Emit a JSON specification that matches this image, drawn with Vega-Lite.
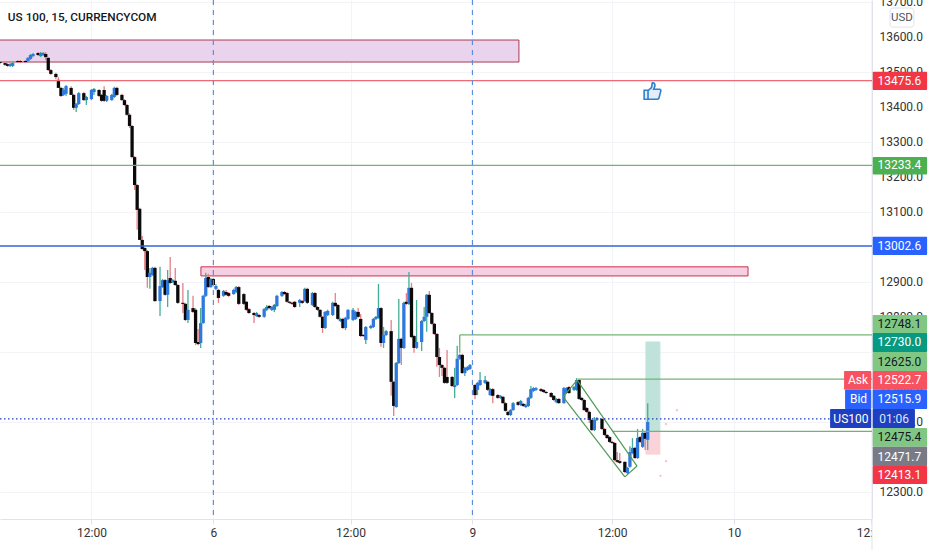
{
  "$schema": "https://vega.github.io/schema/vega-lite/v6.json",
  "width": 872,
  "height": 519,
  "padding": {"left": 0, "top": 0, "right": 60, "bottom": 31},
  "autosize": {"type": "none"},
  "background": "white",
  "view": {"stroke": null},
  "config": {"text": {"font": "Roboto"}, "axis": {"labelFont": "Roboto"}},
  "resolve": {"scale": {"color": "independent"}},
  "datasets": {
    "candles": [
      {"bar":0,"o":13529,"h":13532,"l":13523,"c":13526,"dir":"down"},
      {"bar":2,"o":13526,"h":13529,"l":13518,"c":13521,"dir":"down"},
      {"bar":3,"o":13523,"h":13526,"l":13515,"c":13518,"dir":"down"},
      {"bar":4,"o":13518,"h":13526,"l":13515,"c":13523,"dir":"up"},
      {"bar":5,"o":13518,"h":13529,"l":13515,"c":13526,"dir":"up"},
      {"bar":7,"o":13532,"h":13535,"l":13526,"c":13529,"dir":"down"},
      {"bar":8,"o":13532,"h":13535,"l":13526,"c":13529,"dir":"down"},
      {"bar":10,"o":13532,"h":13535,"l":13526,"c":13529,"dir":"down"},
      {"bar":11,"o":13532,"h":13543,"l":13529,"c":13541,"dir":"up"},
      {"bar":12,"o":13538,"h":13552,"l":13535,"c":13549,"dir":"up"},
      {"bar":13,"o":13546,"h":13555,"l":13543,"c":13552,"dir":"up"},
      {"bar":15,"o":13555,"h":13558,"l":13546,"c":13549,"dir":"down"},
      {"bar":16,"o":13546,"h":13558,"l":13543,"c":13555,"dir":"up"},
      {"bar":17,"o":13549,"h":13558,"l":13546,"c":13555,"dir":"up"},
      {"bar":18,"o":13552,"h":13558,"l":13535,"c":13543,"dir":"down"},
      {"bar":19,"o":13541,"h":13543,"l":13503,"c":13506,"dir":"down"},
      {"bar":20,"o":13506,"h":13509,"l":13492,"c":13495,"dir":"down"},
      {"bar":22,"o":13495,"h":13498,"l":13480,"c":13486,"dir":"down"},
      {"bar":23,"o":13478,"h":13486,"l":13455,"c":13455,"dir":"down"},
      {"bar":24,"o":13455,"h":13458,"l":13429,"c":13432,"dir":"down"},
      {"bar":25,"o":13435,"h":13455,"l":13432,"c":13449,"dir":"up"},
      {"bar":26,"o":13438,"h":13463,"l":13432,"c":13460,"dir":"up"},
      {"bar":28,"o":13455,"h":13460,"l":13435,"c":13435,"dir":"down"},
      {"bar":29,"o":13435,"h":13438,"l":13392,"c":13398,"dir":"down"},
      {"bar":30,"o":13398,"h":13412,"l":13386,"c":13409,"dir":"up"},
      {"bar":31,"o":13409,"h":13443,"l":13406,"c":13440,"dir":"up"},
      {"bar":33,"o":13440,"h":13443,"l":13418,"c":13420,"dir":"down"},
      {"bar":34,"o":13420,"h":13432,"l":13406,"c":13429,"dir":"up"},
      {"bar":36,"o":13423,"h":13452,"l":13420,"c":13449,"dir":"up"},
      {"bar":37,"o":13443,"h":13455,"l":13435,"c":13452,"dir":"up"},
      {"bar":39,"o":13449,"h":13452,"l":13429,"c":13432,"dir":"down"},
      {"bar":40,"o":13435,"h":13438,"l":13415,"c":13418,"dir":"down"},
      {"bar":41,"o":13449,"h":13460,"l":13415,"c":13418,"dir":"down"},
      {"bar":42,"o":13418,"h":13435,"l":13415,"c":13432,"dir":"up"},
      {"bar":44,"o":13420,"h":13438,"l":13418,"c":13435,"dir":"up"},
      {"bar":45,"o":13429,"h":13458,"l":13426,"c":13455,"dir":"up"},
      {"bar":46,"o":13455,"h":13458,"l":13432,"c":13435,"dir":"down"},
      {"bar":48,"o":13435,"h":13438,"l":13418,"c":13420,"dir":"down"},
      {"bar":49,"o":13420,"h":13423,"l":13403,"c":13406,"dir":"down"},
      {"bar":50,"o":13406,"h":13409,"l":13375,"c":13378,"dir":"down"},
      {"bar":51,"o":13378,"h":13383,"l":13340,"c":13346,"dir":"down"},
      {"bar":52,"o":13346,"h":13349,"l":13254,"c":13257,"dir":"down"},
      {"bar":53,"o":13257,"h":13260,"l":13163,"c":13177,"dir":"down"},
      {"bar":54,"o":13177,"h":13180,"l":13049,"c":13106,"dir":"down"},
      {"bar":55,"o":13109,"h":13112,"l":13020,"c":13020,"dir":"down"},
      {"bar":56,"o":13020,"h":13031,"l":12991,"c":12994,"dir":"down"},
      {"bar":57,"o":12997,"h":13000,"l":12934,"c":12988,"dir":"down"},
      {"bar":58,"o":12988,"h":12991,"l":12883,"c":12914,"dir":"down"},
      {"bar":59,"o":12914,"h":12940,"l":12880,"c":12926,"dir":"up"},
      {"bar":60,"o":12920,"h":12943,"l":12917,"c":12940,"dir":"up"},
      {"bar":61,"o":12940,"h":12943,"l":12843,"c":12845,"dir":"down"},
      {"bar":63,"o":12845,"h":12943,"l":12802,"c":12888,"dir":"up"},
      {"bar":64,"o":12885,"h":12908,"l":12883,"c":12905,"dir":"up"},
      {"bar":65,"o":12905,"h":12908,"l":12860,"c":12863,"dir":"down"},
      {"bar":66,"o":12863,"h":12934,"l":12828,"c":12905,"dir":"up"},
      {"bar":67,"o":12911,"h":12971,"l":12894,"c":12897,"dir":"down"},
      {"bar":68,"o":12900,"h":12908,"l":12897,"c":12905,"dir":"up"},
      {"bar":69,"o":12903,"h":12940,"l":12888,"c":12891,"dir":"down"},
      {"bar":70,"o":12891,"h":12894,"l":12837,"c":12840,"dir":"down"},
      {"bar":72,"o":12840,"h":12897,"l":12811,"c":12837,"dir":"down"},
      {"bar":73,"o":12837,"h":12840,"l":12788,"c":12791,"dir":"down"},
      {"bar":74,"o":12791,"h":12877,"l":12782,"c":12820,"dir":"up"},
      {"bar":76,"o":12825,"h":12860,"l":12811,"c":12814,"dir":"down"},
      {"bar":77,"o":12820,"h":12825,"l":12719,"c":12725,"dir":"down"},
      {"bar":78,"o":12728,"h":12765,"l":12719,"c":12722,"dir":"down"},
      {"bar":79,"o":12725,"h":12825,"l":12711,"c":12782,"dir":"up"},
      {"bar":80,"o":12782,"h":12863,"l":12780,"c":12860,"dir":"up"},
      {"bar":81,"o":12860,"h":12926,"l":12857,"c":12911,"dir":"up"},
      {"bar":82,"o":12914,"h":12923,"l":12883,"c":12885,"dir":"down"},
      {"bar":83,"o":12885,"h":12911,"l":12883,"c":12908,"dir":"up"},
      {"bar":84,"o":12908,"h":12911,"l":12888,"c":12891,"dir":"down"},
      {"bar":85,"o":12880,"h":12894,"l":12877,"c":12888,"dir":"up"},
      {"bar":86,"o":12877,"h":12880,"l":12840,"c":12854,"dir":"down"},
      {"bar":88,"o":12860,"h":12877,"l":12857,"c":12874,"dir":"up"},
      {"bar":89,"o":12871,"h":12877,"l":12860,"c":12863,"dir":"down"},
      {"bar":90,"o":12868,"h":12871,"l":12857,"c":12860,"dir":"down"},
      {"bar":92,"o":12865,"h":12880,"l":12863,"c":12877,"dir":"up"},
      {"bar":93,"o":12871,"h":12888,"l":12868,"c":12885,"dir":"up"},
      {"bar":94,"o":12885,"h":12888,"l":12834,"c":12837,"dir":"down"},
      {"bar":96,"o":12865,"h":12868,"l":12834,"c":12837,"dir":"down"},
      {"bar":97,"o":12843,"h":12845,"l":12817,"c":12820,"dir":"down"},
      {"bar":98,"o":12822,"h":12825,"l":12808,"c":12811,"dir":"down"},
      {"bar":100,"o":12811,"h":12814,"l":12782,"c":12805,"dir":"down"},
      {"bar":101,"o":12802,"h":12814,"l":12800,"c":12811,"dir":"up"},
      {"bar":102,"o":12805,"h":12808,"l":12797,"c":12800,"dir":"down"},
      {"bar":104,"o":12800,"h":12825,"l":12797,"c":12822,"dir":"up"},
      {"bar":105,"o":12820,"h":12834,"l":12817,"c":12828,"dir":"up"},
      {"bar":106,"o":12831,"h":12834,"l":12822,"c":12825,"dir":"down"},
      {"bar":107,"o":12820,"h":12831,"l":12817,"c":12828,"dir":"up"},
      {"bar":108,"o":12820,"h":12837,"l":12814,"c":12834,"dir":"up"},
      {"bar":109,"o":12831,"h":12863,"l":12828,"c":12860,"dir":"up"},
      {"bar":111,"o":12860,"h":12874,"l":12857,"c":12871,"dir":"up"},
      {"bar":112,"o":12871,"h":12874,"l":12863,"c":12865,"dir":"down"},
      {"bar":113,"o":12868,"h":12871,"l":12840,"c":12843,"dir":"down"},
      {"bar":114,"o":12843,"h":12845,"l":12837,"c":12840,"dir":"down"},
      {"bar":115,"o":12840,"h":12843,"l":12834,"c":12837,"dir":"down"},
      {"bar":116,"o":12843,"h":12845,"l":12825,"c":12828,"dir":"down"},
      {"bar":118,"o":12840,"h":12851,"l":12828,"c":12848,"dir":"up"},
      {"bar":119,"o":12845,"h":12848,"l":12837,"c":12840,"dir":"down"},
      {"bar":120,"o":12845,"h":12883,"l":12843,"c":12880,"dir":"up"},
      {"bar":121,"o":12880,"h":12883,"l":12837,"c":12840,"dir":"down"},
      {"bar":123,"o":12834,"h":12871,"l":12831,"c":12868,"dir":"up"},
      {"bar":124,"o":12868,"h":12871,"l":12825,"c":12828,"dir":"down"},
      {"bar":125,"o":12828,"h":12831,"l":12817,"c":12820,"dir":"down"},
      {"bar":126,"o":12820,"h":12822,"l":12797,"c":12800,"dir":"down"},
      {"bar":127,"o":12800,"h":12802,"l":12754,"c":12768,"dir":"down"},
      {"bar":128,"o":12768,"h":12817,"l":12765,"c":12814,"dir":"up"},
      {"bar":129,"o":12805,"h":12820,"l":12802,"c":12817,"dir":"up"},
      {"bar":131,"o":12805,"h":12843,"l":12802,"c":12840,"dir":"up"},
      {"bar":132,"o":12840,"h":12868,"l":12828,"c":12831,"dir":"down"},
      {"bar":133,"o":12834,"h":12837,"l":12791,"c":12794,"dir":"down"},
      {"bar":134,"o":12788,"h":12797,"l":12785,"c":12794,"dir":"up"},
      {"bar":135,"o":12794,"h":12797,"l":12765,"c":12768,"dir":"down"},
      {"bar":136,"o":12768,"h":12800,"l":12762,"c":12797,"dir":"up"},
      {"bar":137,"o":12794,"h":12822,"l":12791,"c":12820,"dir":"up"},
      {"bar":139,"o":12791,"h":12825,"l":12788,"c":12820,"dir":"up"},
      {"bar":140,"o":12794,"h":12817,"l":12791,"c":12814,"dir":"up"},
      {"bar":141,"o":12814,"h":12825,"l":12797,"c":12800,"dir":"down"},
      {"bar":142,"o":12794,"h":12808,"l":12742,"c":12745,"dir":"down"},
      {"bar":143,"o":12748,"h":12751,"l":12742,"c":12745,"dir":"down"},
      {"bar":144,"o":12734,"h":12774,"l":12722,"c":12771,"dir":"up"},
      {"bar":146,"o":12768,"h":12777,"l":12765,"c":12774,"dir":"up"},
      {"bar":147,"o":12771,"h":12797,"l":12768,"c":12794,"dir":"up"},
      {"bar":148,"o":12794,"h":12802,"l":12791,"c":12800,"dir":"up"},
      {"bar":149,"o":12797,"h":12894,"l":12794,"c":12825,"dir":"up"},
      {"bar":150,"o":12825,"h":12828,"l":12714,"c":12725,"dir":"down"},
      {"bar":151,"o":12725,"h":12771,"l":12711,"c":12748,"dir":"up"},
      {"bar":152,"o":12748,"h":12762,"l":12745,"c":12759,"dir":"up"},
      {"bar":154,"o":12759,"h":12791,"l":12574,"c":12614,"dir":"down"},
      {"bar":155,"o":12614,"h":12617,"l":12516,"c":12545,"dir":"down"},
      {"bar":156,"o":12542,"h":12671,"l":12540,"c":12668,"dir":"up"},
      {"bar":157,"o":12668,"h":12851,"l":12665,"c":12737,"dir":"up"},
      {"bar":158,"o":12737,"h":12740,"l":12662,"c":12711,"dir":"down"},
      {"bar":159,"o":12711,"h":12843,"l":12708,"c":12840,"dir":"up"},
      {"bar":160,"o":12843,"h":12868,"l":12834,"c":12837,"dir":"down"},
      {"bar":161,"o":12837,"h":12928,"l":12834,"c":12883,"dir":"up"},
      {"bar":162,"o":12883,"h":12897,"l":12739,"c":12742,"dir":"down"},
      {"bar":163,"o":12745,"h":12748,"l":12697,"c":12711,"dir":"down"},
      {"bar":164,"o":12711,"h":12848,"l":12708,"c":12728,"dir":"up"},
      {"bar":166,"o":12728,"h":12791,"l":12702,"c":12788,"dir":"up"},
      {"bar":167,"o":12788,"h":12828,"l":12785,"c":12800,"dir":"up"},
      {"bar":168,"o":12800,"h":12865,"l":12757,"c":12863,"dir":"up"},
      {"bar":169,"o":12863,"h":12874,"l":12808,"c":12811,"dir":"down"},
      {"bar":170,"o":12811,"h":12814,"l":12777,"c":12780,"dir":"down"},
      {"bar":171,"o":12780,"h":12782,"l":12748,"c":12751,"dir":"down"},
      {"bar":172,"o":12751,"h":12754,"l":12657,"c":12685,"dir":"down"},
      {"bar":173,"o":12685,"h":12711,"l":12628,"c":12662,"dir":"down"},
      {"bar":174,"o":12662,"h":12665,"l":12631,"c":12654,"dir":"down"},
      {"bar":175,"o":12654,"h":12657,"l":12608,"c":12611,"dir":"down"},
      {"bar":176,"o":12628,"h":12705,"l":12608,"c":12611,"dir":"down"},
      {"bar":178,"o":12628,"h":12631,"l":12599,"c":12602,"dir":"down"},
      {"bar":179,"o":12599,"h":12654,"l":12568,"c":12605,"dir":"up"},
      {"bar":180,"o":12605,"h":12717,"l":12602,"c":12680,"dir":"up"},
      {"bar":181,"o":12680,"h":12694,"l":12677,"c":12691,"dir":"up"},
      {"bar":182,"o":12691,"h":12694,"l":12637,"c":12639,"dir":"down"},
      {"bar":183,"o":12639,"h":12657,"l":12631,"c":12654,"dir":"up"},
      {"bar":184,"o":12648,"h":12659,"l":12645,"c":12656,"dir":"up"},
      {"bar":185,"o":12651,"h":12665,"l":12648,"c":12662,"dir":"up"},
      {"bar":187,"o":12605,"h":12608,"l":12565,"c":12576,"dir":"down"},
      {"bar":188,"o":12591,"h":12614,"l":12576,"c":12611,"dir":"up"},
      {"bar":189,"o":12605,"h":12642,"l":12602,"c":12619,"dir":"up"},
      {"bar":191,"o":12611,"h":12631,"l":12608,"c":12619,"dir":"up"},
      {"bar":192,"o":12614,"h":12617,"l":12588,"c":12591,"dir":"down"},
      {"bar":193,"o":12576,"h":12596,"l":12574,"c":12593,"dir":"up"},
      {"bar":194,"o":12593,"h":12596,"l":12553,"c":12574,"dir":"down"},
      {"bar":196,"o":12576,"h":12579,"l":12565,"c":12568,"dir":"down"},
      {"bar":197,"o":12568,"h":12576,"l":12565,"c":12574,"dir":"up"},
      {"bar":198,"o":12571,"h":12574,"l":12551,"c":12553,"dir":"down"},
      {"bar":199,"o":12553,"h":12556,"l":12528,"c":12531,"dir":"down"},
      {"bar":200,"o":12528,"h":12531,"l":12516,"c":12519,"dir":"down"},
      {"bar":201,"o":12519,"h":12536,"l":12516,"c":12533,"dir":"up"},
      {"bar":202,"o":12533,"h":12556,"l":12531,"c":12553,"dir":"up"},
      {"bar":204,"o":12556,"h":12559,"l":12545,"c":12548,"dir":"down"},
      {"bar":205,"o":12548,"h":12562,"l":12545,"c":12559,"dir":"up"},
      {"bar":206,"o":12551,"h":12553,"l":12542,"c":12545,"dir":"down"},
      {"bar":207,"o":12542,"h":12551,"l":12539,"c":12548,"dir":"up"},
      {"bar":208,"o":12545,"h":12571,"l":12542,"c":12568,"dir":"up"},
      {"bar":209,"o":12568,"h":12602,"l":12565,"c":12593,"dir":"up"},
      {"bar":210,"o":12588,"h":12599,"l":12585,"c":12596,"dir":"up"},
      {"bar":211,"o":12591,"h":12599,"l":12588,"c":12596,"dir":"up"},
      {"bar":213,"o":12593,"h":12596,"l":12585,"c":12588,"dir":"down"},
      {"bar":214,"o":12591,"h":12593,"l":12582,"c":12585,"dir":"down"},
      {"bar":215,"o":12585,"h":12588,"l":12579,"c":12582,"dir":"down"},
      {"bar":217,"o":12582,"h":12585,"l":12568,"c":12571,"dir":"down"},
      {"bar":218,"o":12574,"h":12576,"l":12559,"c":12562,"dir":"down"},
      {"bar":219,"o":12556,"h":12568,"l":12553,"c":12565,"dir":"up"},
      {"bar":220,"o":12565,"h":12568,"l":12551,"c":12553,"dir":"down"},
      {"bar":222,"o":12553,"h":12599,"l":12551,"c":12596,"dir":"up"},
      {"bar":223,"o":12582,"h":12599,"l":12579,"c":12596,"dir":"up"},
      {"bar":224,"o":12599,"h":12602,"l":12579,"c":12582,"dir":"down"},
      {"bar":226,"o":12591,"h":12602,"l":12588,"c":12599,"dir":"up"},
      {"bar":227,"o":12591,"h":12625,"l":12588,"c":12619,"dir":"up"},
      {"bar":228,"o":12619,"h":12622,"l":12562,"c":12565,"dir":"down"},
      {"bar":229,"o":12568,"h":12571,"l":12559,"c":12562,"dir":"down"},
      {"bar":230,"o":12562,"h":12565,"l":12531,"c":12533,"dir":"down"},
      {"bar":231,"o":12539,"h":12542,"l":12525,"c":12528,"dir":"down"},
      {"bar":232,"o":12528,"h":12531,"l":12496,"c":12505,"dir":"down"},
      {"bar":233,"o":12505,"h":12508,"l":12473,"c":12476,"dir":"down"},
      {"bar":234,"o":12476,"h":12513,"l":12473,"c":12505,"dir":"up"},
      {"bar":235,"o":12505,"h":12513,"l":12502,"c":12510,"dir":"up"},
      {"bar":237,"o":12508,"h":12510,"l":12476,"c":12479,"dir":"down"},
      {"bar":238,"o":12479,"h":12482,"l":12459,"c":12462,"dir":"down"},
      {"bar":239,"o":12462,"h":12465,"l":12451,"c":12453,"dir":"down"},
      {"bar":240,"o":12456,"h":12459,"l":12439,"c":12442,"dir":"down"},
      {"bar":241,"o":12442,"h":12445,"l":12436,"c":12439,"dir":"down"},
      {"bar":242,"o":12439,"h":12442,"l":12387,"c":12390,"dir":"down"},
      {"bar":243,"o":12390,"h":12413,"l":12382,"c":12385,"dir":"down"},
      {"bar":244,"o":12387,"h":12410,"l":12379,"c":12382,"dir":"down"},
      {"bar":246,"o":12385,"h":12387,"l":12353,"c":12356,"dir":"down"},
      {"bar":247,"o":12353,"h":12371,"l":12350,"c":12368,"dir":"up"},
      {"bar":248,"o":12371,"h":12430,"l":12368,"c":12413,"dir":"up"},
      {"bar":249,"o":12410,"h":12453,"l":12407,"c":12425,"dir":"up"},
      {"bar":250,"o":12425,"h":12428,"l":12393,"c":12396,"dir":"down"},
      {"bar":251,"o":12396,"h":12479,"l":12393,"c":12453,"dir":"up"},
      {"bar":252,"o":12456,"h":12459,"l":12439,"c":12442,"dir":"down"},
      {"bar":253,"o":12428,"h":12479,"l":12425,"c":12468,"dir":"up"},
      {"bar":254,"o":12468,"h":12470,"l":12419,"c":12451,"dir":"down"},
      {"bar":255,"o":12448,"h":12553,"l":12419,"c":12499,"dir":"up"}
    ],
    "zones": [
      {"name":"supply","from":-2,"to":204.3,"top":13592,"bottom":13529},
      {"name":"resistance","from":79.1,"to":294.5,"top":12943,"bottom":12917},
      {"name":"profit","from":254.3,"to":259.8,"top":12728,"bottom":12470},
      {"name":"loss","from":254.3,"to":259.8,"top":12470,"bottom":12407}
    ],
    "levels": [
      {"name":"red","from":0,"to":343.3,"price":13475.6},
      {"name":"green","from":0,"to":343.3,"price":13233.4},
      {"name":"blue","from":0,"to":343.3,"price":13002.6},
      {"name":"green","from":181,"to":343.3,"price":12748.1},
      {"name":"green","from":227.5,"to":343.3,"price":12622},
      {"name":"green","from":241,"to":343.3,"price":12472}
    ],
    "paths": [
      {"path":"channel-upper","bar":227.2,"price":12619},
      {"path":"channel-upper","bar":250.8,"price":12373},
      {"path":"channel-lower","bar":221.7,"price":12571},
      {"path":"channel-lower","bar":246,"price":12342},
      {"path":"channel-top","bar":221.7,"price":12571},
      {"path":"channel-top","bar":227.2,"price":12619},
      {"path":"channel-bottom","bar":246,"price":12342},
      {"path":"channel-bottom","bar":250.8,"price":12373}
    ],
    "stem": [{"bar":181,"from":12748,"to":12697}],
    "priceLabels": [
      {"price":12300,"label":"12300.0"},{"price":12400,"label":"12400.0"},{"price":12500,"label":"12500.0"},
      {"price":12600,"label":"12600.0"},{"price":12700,"label":"12700.0"},{"price":12800,"label":"12800.0"},
      {"price":12900,"label":"12900.0"},{"price":13000,"label":"13000.0"},{"price":13100,"label":"13100.0"},
      {"price":13200,"label":"13200.0"},{"price":13300,"label":"13300.0"},{"price":13400,"label":"13400.0"},
      {"price":13500,"label":"13500.0"},{"price":13600,"label":"13600.0"},{"price":13700,"label":"13700.0"}
    ],
    "rightTags": [
      {"name":"sell","label":"13475.6","top":13501,"bottom":13449,"mid":13475.6,"from":343.6,"to":365,"center":354.1},
      {"name":"tp","label":"13233.4","top":13257,"bottom":13207,"mid":13233.4,"from":343.6,"to":365,"center":354.1},
      {"name":"bid","label":"13002.6","top":13029,"bottom":12977,"mid":13002.6,"from":343.6,"to":365,"center":354.1},
      {"name":"level","label":"12748.1","top":12805,"bottom":12754,"mid":12780,"from":343.6,"to":365,"center":354.1},
      {"name":"teal","label":"12730.0","top":12754,"bottom":12699,"mid":12727,"from":343.6,"to":365,"center":354.1},
      {"name":"level","label":"12625.0","top":12699,"bottom":12645,"mid":12672,"from":343.6,"to":365,"center":354.1},
      {"name":"ask","label":"12522.7","top":12645,"bottom":12591,"mid":12618,"from":343.6,"to":365,"center":354.1},
      {"name":"bid","label":"12515.9","top":12591,"bottom":12536,"mid":12564,"from":343.6,"to":365,"center":354.1},
      {"name":"last","label":"01:06","top":12536,"bottom":12482,"mid":12509,"from":343.6,"to":360.2,"center":352},
      {"name":"level","label":"12475.4","top":12482,"bottom":12428,"mid":12455,"from":343.6,"to":365,"center":354.1},
      {"name":"gray","label":"12471.7","top":12428,"bottom":12373,"mid":12400,"from":343.6,"to":365,"center":354.1},
      {"name":"sell","label":"12413.1","top":12373,"bottom":12322,"mid":12347,"from":343.6,"to":365,"center":354.1}
    ],
    "leftTags": [
      {"name":"ask","label":"Ask","from":332.3,"to":343,"center":337.8,"top":12645,"bottom":12591,"mid":12618},
      {"name":"bid","label":"Bid","from":332.7,"to":343,"center":338,"top":12591,"bottom":12536,"mid":12564},
      {"name":"last","label":"US100","from":326.8,"to":343,"center":335,"top":12536,"bottom":12482,"mid":12509}
    ],
    "dots": [
      {"bar":266.5,"price":12533},
      {"bar":262.2,"price":12493},
      {"bar":262.2,"price":12387},
      {"bar":260,"price":12345}
    ]
  },
  "layer": [
    {
      "data": {"name": "zones"},
      "mark": {"type": "rect", "strokeWidth": 1},
      "encoding": {
        "x": {"field": "from", "type": "quantitative", "title": null, "scale": {"domain": [0, 343.3]},
          "axis": {"values": [36, 84, 138, 186, 241, 289, 343], "labelExpr": "{'36':'12:00','84':'6','138':'12:00','186':'9','241':'12:00','289':'10','343':'12:00'}[datum.value]", "title": null, "grid": true, "gridColor": "#f3f4f7", "domainColor": "#e0e3eb", "tickSize": 5, "tickColor": "#e0e3eb", "labelColor": "#333333", "labelFontSize": 12, "labelPadding": 3, "labelOverlap": false, "labelBound": false, "labelFlush": false}},
        "x2": {"field": "to"},
        "y": {"field": "top", "type": "quantitative", "title": null, "scale": {"domain": [12221.5, 13706.5]},
          "axis": {"orient": "right", "values": [12300,12400,12500,12600,12700,12800,12900,13000,13100,13200,13300,13400,13500,13600,13700], "labels": false, "title": null, "grid": true, "gridColor": "#f3f4f7", "domainColor": "#e0e3eb", "tickSize": 0}},
        "y2": {"field": "bottom"},
        "fill": {"field": "name", "scale": {"domain": ["supply", "resistance", "profit", "loss"], "range": ["#ead3ec", "#f7cfe3", "#bfe3da", "#f9d3d9"]}, "legend": null},
        "stroke": {"field": "name", "scale": {"domain": ["supply", "resistance", "profit", "loss"], "range": ["#a83a50", "#c9304c", "#bfe3da", "#f9d3d9"]}, "legend": null}
      }
    },
    {
      "data": {"name": "candles"},
      "mark": {"type": "rule", "strokeWidth": 1.3},
      "encoding": {
        "x": {"field": "bar", "type": "quantitative", "scale": {"domain": [0, 343.3]}},
        "y": {"field": "l", "type": "quantitative", "scale": {"domain": [12221.5, 13706.5]}},
        "y2": {"field": "h"},
        "color": {"field": "dir", "scale": {"domain": ["down", "up"], "range": ["#e67f87", "#45ad95"]}, "legend": null}
      }
    },
    {
      "data": {"name": "candles"},
      "mark": {"type": "rule", "strokeWidth": 3.3},
      "encoding": {
        "x": {"field": "bar", "type": "quantitative", "scale": {"domain": [0, 343.3]}},
        "y": {"field": "o", "type": "quantitative", "scale": {"domain": [12221.5, 13706.5]}},
        "y2": {"field": "c"},
        "color": {"field": "dir", "scale": {"domain": ["down", "up"], "range": ["#0a0a0a", "#2f78dc"]}, "legend": null}
      }
    },
    {
      "data": {"name": "levels"},
      "mark": {"type": "rule", "strokeWidth": 1.3},
      "encoding": {
        "x": {"field": "from", "type": "quantitative", "scale": {"domain": [0, 343.3]}},
        "x2": {"field": "to"},
        "y": {"field": "price", "type": "quantitative", "scale": {"domain": [12221.5, 13706.5]}},
        "color": {"field": "name", "scale": {"domain": ["red", "green", "blue"], "range": ["#ef6a75", "#74b374", "#2f66d8"]}, "legend": null}
      }
    },
    {
      "data": {"name": "stem"},
      "mark": {"type": "rule", "strokeWidth": 1.3, "color": "#74b374"},
      "encoding": {
        "x": {"field": "bar", "type": "quantitative", "scale": {"domain": [0, 343.3]}},
        "y": {"field": "from", "type": "quantitative", "scale": {"domain": [12221.5, 13706.5]}},
        "y2": {"field": "to"}
      }
    },
    {
      "data": {"name": "paths"},
      "mark": {"type": "line", "strokeWidth": 1.2, "color": "#4f9a55"},
      "encoding": {
        "x": {"field": "bar", "type": "quantitative", "scale": {"domain": [0, 343.3]}},
        "y": {"field": "price", "type": "quantitative", "scale": {"domain": [12221.5, 13706.5]}},
        "detail": {"field": "path"}
      }
    },
    {
      "data": {"values": [{"bar": 84}, {"bar": 186}]},
      "mark": {"type": "rule", "strokeWidth": 1.2, "strokeDash": [5, 5], "color": "#5b8ddb"},
      "encoding": {
        "x": {"field": "bar", "type": "quantitative", "scale": {"domain": [0, 343.3]}}
      }
    },
    {
      "data": {"values": [{"from": 0, "to": 326.8, "price": 12508}]},
      "mark": {"type": "rule", "strokeWidth": 1.2, "strokeDash": [1.5, 2.5], "color": "#1e3fbf"},
      "encoding": {
        "x": {"field": "from", "type": "quantitative", "scale": {"domain": [0, 343.3]}},
        "x2": {"field": "to"},
        "y": {"field": "price", "type": "quantitative", "scale": {"domain": [12221.5, 13706.5]}}
      }
    },
    {
      "data": {"name": "dots"},
      "mark": {"type": "point", "filled": true, "size": 5, "color": "#f0a3b2"},
      "encoding": {
        "x": {"field": "bar", "type": "quantitative", "scale": {"domain": [0, 343.3]}},
        "y": {"field": "price", "type": "quantitative", "scale": {"domain": [12221.5, 13706.5]}}
      }
    },
    {
      "data": {"values": [{"bar": 257, "price": 13446}]},
      "mark": {"type": "point", "filled": false, "size": 300, "opacity": 1, "stroke": "#2f7fd0", "fill": "#e3eefa", "fillOpacity": 1, "strokeWidth": 1.6,
        "shape": "M-1,-0.1 L-0.55,-0.1 L-0.55,0.95 L-1,0.95 Z M-0.55,-0.05 L-0.15,-0.4 L-0.05,-0.95 Q0.25,-1 0.25,-0.6 L0.1,-0.2 L0.8,-0.2 Q1,-0.15 0.9,0.1 L0.7,0.85 Q0.65,0.95 0.5,0.95 L-0.55,0.95 Z"},
      "encoding": {
        "x": {"field": "bar", "type": "quantitative", "scale": {"domain": [0, 343.3]}},
        "y": {"field": "price", "type": "quantitative", "scale": {"domain": [12221.5, 13706.5]}}
      }
    },
    {
      "data": {"values": [{"bar": 3.1, "price": 13658, "label": "US 100, 15, CURRENCYCOM"}]},
      "mark": {"type": "text", "align": "left", "baseline": "middle", "fontSize": 11.8, "fontWeight": 500, "color": "#131722"},
      "encoding": {
        "x": {"field": "bar", "type": "quantitative", "scale": {"domain": [0, 343.3]}},
        "y": {"field": "price", "type": "quantitative", "scale": {"domain": [12221.5, 13706.5]}},
        "text": {"field": "label"}
      }
    },
    {
      "data": {"values": [{"from": 343.3, "to": 368, "top": 12221.5, "bottom": 12100}]},
      "mark": {"type": "rect", "fill": "white"},
      "encoding": {
        "x": {"field": "from", "type": "quantitative", "scale": {"domain": [0, 343.3]}},
        "x2": {"field": "to"},
        "y": {"field": "top", "type": "quantitative", "scale": {"domain": [12221.5, 13706.5]}},
        "y2": {"field": "bottom"}
      }
    },
    {
      "data": {"values": [{"bar": 343.3, "top": 12221.5, "bottom": 12100}]},
      "mark": {"type": "rule", "color": "#e0e3eb"},
      "encoding": {
        "x": {"field": "bar", "type": "quantitative", "scale": {"domain": [0, 343.3]}},
        "y": {"field": "top", "type": "quantitative", "scale": {"domain": [12221.5, 13706.5]}},
        "y2": {"field": "bottom"}
      }
    },
    {
      "data": {"name": "priceLabels"},
      "mark": {"type": "text", "fontSize": 12, "color": "#333333", "baseline": "middle", "align": "center"},
      "encoding": {
        "x": {"datum": 354.8, "type": "quantitative", "scale": {"domain": [0, 343.3]}},
        "y": {"field": "price", "type": "quantitative", "scale": {"domain": [12221.5, 13706.5]}},
        "text": {"field": "label"}
      }
    },
    {
      "data": {"values": [{"from": 350.4, "to": 359.8, "top": 13683.6, "bottom": 13629}]},
      "mark": {"type": "rect", "fill": "white", "stroke": "#e0e3eb", "cornerRadius": 3},
      "encoding": {
        "x": {"field": "from", "type": "quantitative", "scale": {"domain": [0, 343.3]}},
        "x2": {"field": "to"},
        "y": {"field": "top", "type": "quantitative", "scale": {"domain": [12221.5, 13706.5]}},
        "y2": {"field": "bottom"}
      }
    },
    {
      "data": {"values": [{"center": 355.1, "mid": 13656, "label": "USD"}]},
      "mark": {"type": "text", "fontSize": 11.5, "color": "#50535e", "baseline": "middle"},
      "encoding": {
        "x": {"field": "center", "type": "quantitative", "scale": {"domain": [0, 343.3]}},
        "y": {"field": "mid", "type": "quantitative", "scale": {"domain": [12221.5, 13706.5]}},
        "text": {"field": "label"}
      }
    },
    {
      "data": {"name": "rightTags"},
      "mark": {"type": "rect", "cornerRadius": 1},
      "encoding": {
        "x": {"field": "from", "type": "quantitative", "scale": {"domain": [0, 343.3]}},
        "x2": {"field": "to"},
        "y": {"field": "top", "type": "quantitative", "scale": {"domain": [12221.5, 13706.5]}},
        "y2": {"field": "bottom"},
        "color": {"field": "name", "scale": {"domain": ["sell", "tp", "bid", "level", "teal", "ask", "last", "gray"], "range": ["#f23645", "#4caf50", "#2962ff", "#81c784", "#089981", "#f7525f", "#1e3fbf", "#787b86"]}, "legend": null}
      }
    },
    {
      "data": {"name": "leftTags"},
      "mark": {"type": "rect", "cornerRadius": 1},
      "encoding": {
        "x": {"field": "from", "type": "quantitative", "scale": {"domain": [0, 343.3]}},
        "x2": {"field": "to"},
        "y": {"field": "top", "type": "quantitative", "scale": {"domain": [12221.5, 13706.5]}},
        "y2": {"field": "bottom"},
        "color": {"field": "name", "scale": {"domain": ["ask", "bid", "last"], "range": ["#f7525f", "#2962ff", "#1e3fbf"]}, "legend": null}
      }
    },
    {
      "data": {"name": "rightTags"},
      "mark": {"type": "text", "fontSize": 12, "baseline": "middle", "align": "center"},
      "encoding": {
        "x": {"field": "center", "type": "quantitative", "scale": {"domain": [0, 343.3]}},
        "y": {"field": "mid", "type": "quantitative", "scale": {"domain": [12221.5, 13706.5]}},
        "text": {"field": "label"},
        "color": {"field": "name", "scale": {"domain": ["sell", "tp", "bid", "level", "teal", "ask", "last", "gray"], "range": ["#ffffff", "#ffffff", "#ffffff", "#131722", "#ffffff", "#ffffff", "#dfe6ff", "#ffffff"]}, "legend": null}
      }
    },
    {
      "data": {"name": "leftTags"},
      "mark": {"type": "text", "fontSize": 12, "baseline": "middle", "align": "center", "color": "white"},
      "encoding": {
        "x": {"field": "center", "type": "quantitative", "scale": {"domain": [0, 343.3]}},
        "y": {"field": "mid", "type": "quantitative", "scale": {"domain": [12221.5, 13706.5]}},
        "text": {"field": "label"}
      }
    }
  ]
}
